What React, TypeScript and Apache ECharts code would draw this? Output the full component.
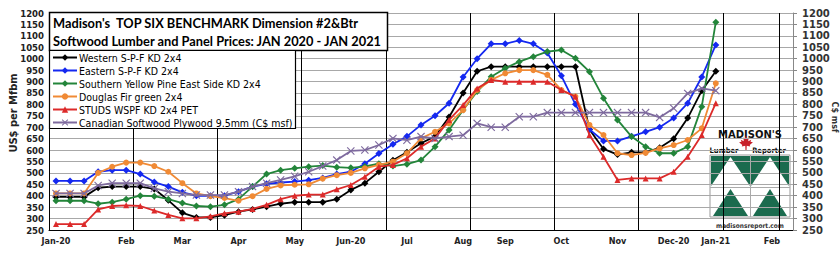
import React, { useEffect, useRef } from 'react';
import * as echarts from 'echarts';

// ---- data (weekly, Jan 2020 - Jan 2021) ----
const WEEK_COUNT = 53;
const monthLabels: [number, string][] = [
  [0, 'Jan-20'], [5, 'Feb'], [9, 'Mar'], [13, 'Apr'], [17, 'May'], [21, 'Jun-20'],
  [25, 'Jul'], [29, 'Aug'], [32, 'Sep'], [36, 'Oct'], [40, 'Nov'], [44, 'Dec-20'],
  [47, 'Jan-21'], [51, 'Feb'],
];

const westernSPF = [
  395, 395, 395, 435, 440, 440, 440, 430, 380, 325, 305, 305, 315, 330, 340, 352,
  365, 372, 372, 372, 385, 425, 455, 505, 555, 590, 630, 660, 745, 850, 945, 965,
  965, 965, 965, 965, 965, 965, 690, 605, 580, 590, 590, 610, 650, 740, 860, 945,
];
const easternSPF = [
  465, 465, 465, 505, 512, 512, 495, 460, 440, 415, 400, 400, 400, 418, 440, 452,
  458, 462, 468, 478, 495, 505, 540, 585, 625, 660, 710, 750, 805, 920, 1000, 1065,
  1065, 1080, 1065, 1025, 925, 800, 690, 640, 640, 660, 680, 700, 740, 805, 920, 1060,
];
const southernYP = [
  378, 378, 378, 365, 372, 385, 400, 398, 385, 368, 355, 352, 360, 385, 440, 495,
  512, 520, 527, 532, 525, 522, 528, 540, 530, 538, 556, 615, 688, 775, 856, 921,
  958, 987, 1009, 1031, 1038, 1002, 943, 827, 732, 659, 615, 586, 586, 615, 790, 1160,
];
const douglasFir = [
  410, 410, 410, 500, 527, 545, 545, 530, 505, 455, 410, 398, 390, 378, 398, 430,
  445, 448, 450, 475, 490, 500, 520, 535, 549, 586, 651, 680, 717, 775, 863, 907,
  936, 950, 950, 929, 863, 834, 710, 666, 586, 578, 588, 607, 622, 644, 695, 892,
];
const studsSPF = [
  276, 276, 276, 340, 355, 358, 355, 335, 316, 301, 301, 310, 323, 330, 342, 360,
  385, 400, 405, 405, 428, 447, 483, 527, 535, 564, 615, 651, 732, 797, 870, 907,
  899, 899, 899, 899, 863, 834, 666, 571, 469, 476, 476, 476, 505, 571, 666, 805,
];
const plywood = [
  410, 410, 410, 445, 455, 455, 455, 432, 418, 410, 403, 403, 403, 418, 440, 455,
  469, 485, 505, 530, 556, 596, 600, 622, 651, 643, 659, 651, 659, 665, 717, 700,
  700, 746, 746, 764, 764, 764, 764, 764, 764, 764, 764, 743, 783, 848, 870, 860,
];

const seriesNames = [
  'Western S-P-F KD 2x4',
  'Eastern S-P-F KD 2x4',
  'Southern Yellow Pine East Side KD 2x4',
  'Douglas Fir green 2x4',
  'STUDS WSPF KD 2x4 PET',
  'Canadian Softwood Plywood 9.5mm (C$ msf)',
];

const leftAxisTitle = 'US$ per Mfbm';
const rightAxisTitle = 'C$ msf';

const X_SYMBOL =
  'path://M0,1 L1,0 L5,4 L9,0 L10,1 L6,5 L10,9 L9,10 L5,6 L1,10 L0,9 L4,5 Z';

const COND = "'DejaVu Sans Condensed', 'Liberation Sans Narrow', sans-serif";

function leafPoints(cx: number, cy: number, s: number): number[][] {
  const unit = [
    [0, -1], [0.15, -0.6], [0.35, -0.72], [0.3, -0.25], [0.7, -0.45], [0.6, -0.18],
    [0.92, -0.1], [0.5, 0.25], [0.56, 0.45], [0.1, 0.35], [0.07, 0.95], [-0.07, 0.95],
    [-0.1, 0.35], [-0.56, 0.45], [-0.5, 0.25], [-0.92, -0.1], [-0.6, -0.18],
    [-0.7, -0.45], [-0.3, -0.25], [-0.35, -0.72], [-0.15, -0.6],
  ];
  return unit.map(([a, b]) => [cx + a * s, cy + b * s]);
}

export default function App() {
  const ref = useRef<HTMLDivElement>(null);

  useEffect(() => {
    if (!ref.current) return;
    const chart = echarts.init(ref.current, null, { renderer: 'svg' });

    const labelMap: Record<number, string> = {};
    monthLabels.forEach(([i, l]) => (labelMap[i] = l));
    const categories = Array.from({ length: WEEK_COUNT }, (_, i) => String(i));

    const mk = (
      idx: number,
      data: number[],
      color: string,
      symbol: string,
      symbolSize: number,
      yAxisIndex = 0
    ) => ({
      name: seriesNames[idx],
      type: 'line',
      data,
      yAxisIndex,
      symbol,
      symbolSize,
      showSymbol: true,
      lineStyle: { width: 1.8, color },
      itemStyle: { color },
      emphasis: { disabled: true },
      z: 2 + idx * 0.1,
    });

    const green = '#1b6b4e';
    const logo = {
      type: 'group',
      x: 710,
      y: 128,
      z: 20,
      children: [
        {
          type: 'text',
          style: {
            x: 40, y: 6, text: "MADISON'S", fill: '#111',
            font: "bold 10px 'DejaVu Sans', sans-serif", align: 'center', verticalAlign: 'middle',
          },
        },
        {
          type: 'polygon',
          shape: { points: leafPoints(36, 15, 7.5) },
          style: { fill: '#c8202a' },
        },
        {
          type: 'text',
          style: {
            x: 14, y: 22, text: 'Lumber', fill: '#111',
            font: "bold 7.5px 'DejaVu Sans Condensed', sans-serif", align: 'center', verticalAlign: 'middle',
          },
        },
        {
          type: 'text',
          style: {
            x: 59, y: 22, text: 'Reporter', fill: '#111',
            font: "bold 7.5px 'DejaVu Sans Condensed', sans-serif", align: 'center', verticalAlign: 'middle',
          },
        },
        { type: 'rect', shape: { x: 0, y: 27, width: 80, height: 62 }, style: { fill: '#fff', stroke: '#999', lineWidth: 1 } },
        { type: 'rect', shape: { x: 1, y: 28, width: 39, height: 30 }, style: { fill: green } },
        { type: 'rect', shape: { x: 41, y: 28, width: 38, height: 30 }, style: { fill: green } },
        { type: 'polygon', shape: { points: [[1, 58], [20.5, 29], [40, 58]] }, style: { fill: '#fff' } },
        { type: 'polygon', shape: { points: [[41, 58], [60, 29], [79, 58]] }, style: { fill: '#fff' } },
        { type: 'polygon', shape: { points: [[3, 88], [20.5, 61], [38, 88]] }, style: { fill: green } },
        { type: 'polygon', shape: { points: [[43, 88], [60, 61], [77, 88]] }, style: { fill: green } },
        { type: 'line', shape: { x1: 40.5, y1: 27, x2: 40.5, y2: 89 }, style: { stroke: '#aaa', lineWidth: 1 } },
        { type: 'line', shape: { x1: 0, y1: 59.5, x2: 80, y2: 59.5 }, style: { stroke: '#aaa', lineWidth: 1 } },
        {
          type: 'text',
          style: {
            x: 40, y: 98, text: 'madisonsreport.com', fill: '#333',
            font: "bold 6.5px 'DejaVu Sans Condensed', sans-serif", align: 'center', verticalAlign: 'middle',
          },
        },
      ],
    };

    const option: any = {
      animation: false,
      backgroundColor: '#fff',
      grid: { left: 49, right: 47, top: 13, bottom: 25, containLabel: false },
      title: {
        text:
          "Madison's  TOP SIX BENCHMARK Dimension #2&Btr\nSoftwood Lumber and Panel Prices: JAN 2020 - JAN 2021",
        left: 53,
        top: 14,
        padding: 0,
        z: 8,
        textStyle: {
          fontFamily: 'Lato, sans-serif',
          fontWeight: 'bold',
          fontSize: 12.8,
          lineHeight: 18,
          color: '#000',
        },
      },
      legend: {
        data: seriesNames,
        orient: 'vertical',
        left: 52,
        top: 52,
        padding: 0,
        itemWidth: 24,
        itemHeight: 8,
        itemGap: 2,
        z: 8,
        textStyle: { fontFamily: COND, fontSize: 10.5, color: '#000', padding: [0, 0, 0, -3] },
        selectedMode: false,
      },
      xAxis: {
        type: 'category',
        data: categories,
        boundaryGap: true,
        axisLine: { show: true, lineStyle: { color: '#000', width: 1 } },
        axisTick: { show: false, interval: 5 },
        splitLine: { show: true, interval: 5, lineStyle: { color: '#000', width: 1 } },
        axisLabel: {
          interval: 0,
          margin: 6,
          formatter: (_v: string, i: number) => labelMap[i] || '',
          fontFamily: COND,
          fontWeight: 'bold',
          fontSize: 9,
          color: '#222',
        },
      },
      yAxis: [
        {
          type: 'value',
          min: 250,
          max: 1200,
          interval: 50,
          position: 'left',
          axisLine: { show: true, lineStyle: { color: '#000', width: 1 } },
          axisTick: { show: false },
          splitLine: { show: true, lineStyle: { color: '#a8a8a8', width: 1 } },
          axisLabel: {
            margin: 5, fontFamily: COND, fontWeight: 'bold', fontSize: 9.5, color: '#222',
            overflow: 'none',
            formatter: (v: number) => String(v),
          },
        },
        {
          type: 'value',
          min: 250,
          max: 1200,
          interval: 50,
          position: 'right',
          axisLine: { show: true, lineStyle: { color: '#888', width: 1 } },
          axisTick: { show: true, inside: false, length: 4, lineStyle: { color: '#888' } },
          splitLine: { show: false },
          axisLabel: {
            margin: 9, fontFamily: 'DejaVu Sans, sans-serif', fontWeight: 'bold', fontSize: 10, color: '#333',
            overflow: 'none',
            formatter: (v: number) => String(v),
          },
        },
      ],
      graphic: [
        {
          type: 'rect',
          z: 5,
          shape: { x: 49.5, y: 12.5, width: 338, height: 38 },
          style: { fill: '#fff', stroke: '#000', lineWidth: 1.5 },
        },
        {
          type: 'rect',
          z: 5,
          shape: { x: 49.5, y: 50.5, width: 246, height: 78 },
          style: { fill: '#fff', stroke: '#000', lineWidth: 1.2 },
        },
        {
          type: 'text',
          x: 13,
          y: 113,
          rotation: Math.PI / 2,
          z: 5,
          style: {
            text: leftAxisTitle, fill: '#222', align: 'center', verticalAlign: 'middle',
            font: "bold 11px 'DejaVu Sans Condensed', sans-serif",
          },
        },
        {
          type: 'text',
          x: 834.5,
          y: 117,
          rotation: -Math.PI / 2,
          z: 5,
          style: {
            text: rightAxisTitle, fill: '#333', align: 'center', verticalAlign: 'middle',
            font: "bold 8px 'DejaVu Sans', sans-serif",
          },
        },
        logo,
      ],
      series: [
        mk(0, westernSPF, '#000000', 'diamond', 7),
        mk(1, easternSPF, '#1428f0', 'diamond', 7),
        mk(2, southernYP, '#23853a', 'diamond', 7),
        mk(3, douglasFir, '#f08a35', 'circle', 6),
        mk(4, studsSPF, '#dc2a2a', 'triangle', 6),
        mk(5, plywood, '#7e6a9e', X_SYMBOL, 8, 1),
      ],
    };

    chart.setOption(option);
    return () => chart.dispose();
  }, []);

  return (
    <div
      ref={ref}
      style={{ position: 'fixed', left: 0, top: 0, width: 840, height: 255, background: '#fff' }}
    />
  );
}
